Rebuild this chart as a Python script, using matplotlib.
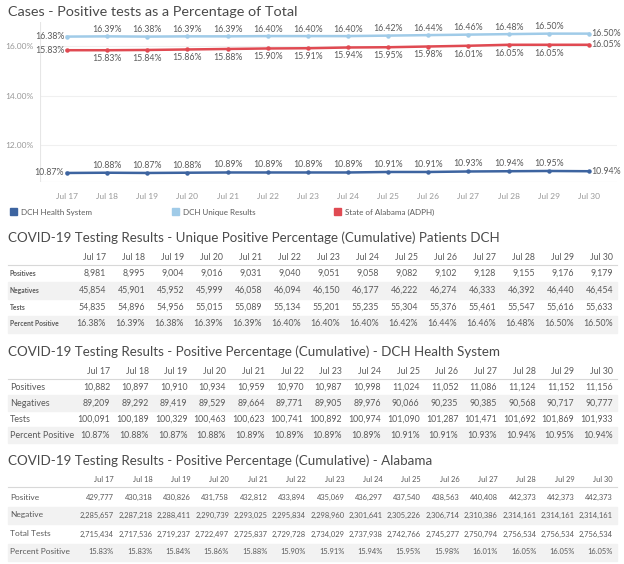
import matplotlib
matplotlib.use('Agg')
import matplotlib.pyplot as plt
from matplotlib.transforms import Affine2D
from matplotlib.patches import Rectangle
from matplotlib.lines import Line2D

plt.rcParams['font.family'] = ['Lato', 'DejaVu Sans']

dates = ['Jul 17', 'Jul 18', 'Jul 19', 'Jul 20', 'Jul 21', 'Jul 22', 'Jul 23',
         'Jul 24', 'Jul 25', 'Jul 26', 'Jul 27', 'Jul 28', 'Jul 29', 'Jul 30']

# percent positive series
dch_system_pct = [10.87, 10.88, 10.87, 10.88, 10.89, 10.89, 10.89, 10.89, 10.91, 10.91, 10.93, 10.94, 10.95, 10.94]
dch_unique_pct = [16.38, 16.39, 16.38, 16.39, 16.39, 16.40, 16.40, 16.40, 16.42, 16.44, 16.46, 16.48, 16.50, 16.50]
alabama_pct = [15.83, 15.83, 15.84, 15.86, 15.88, 15.90, 15.91, 15.94, 15.95, 15.98, 16.01, 16.05, 16.05, 16.05]

# DCH unique patients
uniq_pos = [8981, 8995, 9004, 9016, 9031, 9040, 9051, 9058, 9082, 9102, 9128, 9155, 9176, 9179]
uniq_neg = [45854, 45901, 45952, 45999, 46058, 46094, 46150, 46177, 46222, 46274, 46333, 46392, 46440, 46454]
uniq_tests = [54835, 54896, 54956, 55015, 55089, 55134, 55201, 55235, 55304, 55376, 55461, 55547, 55616, 55633]

# DCH health system
sys_pos = [10882, 10897, 10910, 10934, 10959, 10970, 10987, 10998, 11024, 11052, 11086, 11124, 11152, 11156]
sys_neg = [89209, 89292, 89419, 89529, 89664, 89771, 89905, 89976, 90066, 90235, 90385, 90568, 90717, 90777]
sys_tests = [100091, 100189, 100329, 100463, 100623, 100741, 100892, 100974, 101090, 101287, 101471, 101692, 101869, 101933]

# Alabama
al_pos = [429777, 430318, 430826, 431758, 432812, 433894, 435069, 436297, 437540, 438563, 440408, 442373, 442373, 442373]
al_neg = [2285657, 2287218, 2288411, 2290739, 2293025, 2295834, 2298960, 2301641, 2305226, 2306714, 2310386, 2314161, 2314161, 2314161]
al_tests = [2715434, 2717536, 2719237, 2722497, 2725837, 2729728, 2734029, 2737938, 2742766, 2745277, 2750794, 2756534, 2756534, 2756534]

W, H = 624, 564
fig = plt.figure(figsize=(W / 100, H / 100), dpi=100)
px = Affine2D().scale(1 / W, -1 / H).translate(0, 1) + fig.transFigure

c_dark = '#3d64a0'
c_light = '#a0cbe8'
c_red = '#e04a52'
gray = '#5a5a5a'
title_c = '#4a4a4a'

# ---- line chart ----
fig.text(8, 12, 'Cases - Positive tests as a Percentage of Total', transform=px,
         fontsize=10.4, color=title_c, va='center')

ax = fig.add_axes([40 / W, 1 - 182 / H, (617 - 40) / W, (182 - 22) / H])
x = list(range(len(dates)))
ax.set_xlim(-0.67, 13.7)
ax.set_ylim(10.505, 16.97)
for sp in ax.spines.values():
    sp.set_visible(False)
ax.axvline(-0.67, color='#e6e6e6', lw=0.8)
ax.axhline(10.505, color='#e6e6e6', lw=0.8)
ax.set_yticks([12, 14, 16])
ax.set_yticklabels(['12.00%', '14.00%', '16.00%'])
ax.yaxis.grid(True, color='#f0f0f0', lw=0.8)
ax.set_xticks(x)
ax.set_xticklabels(dates)
ax.tick_params(length=0, labelsize=6, labelcolor='#999999', pad=8)
ax.tick_params(axis='y', pad=5)

for series, col in [(dch_system_pct, c_dark), (dch_unique_pct, c_light), (alabama_pct, c_red)]:
    ax.plot(x, series, color=col, lw=1.8, marker='o', ms=2.2, zorder=3)

def label_series(series, dy):
    n = len(series)
    for i, v in enumerate(series):
        if i == 0:
            ax.annotate(f'{v:.2f}%', (i, v), xytext=(-2, 0), textcoords='offset points',
                        ha='right', va='center', fontsize=6.3, color=gray)
        elif i == n - 1:
            ax.annotate(f'{v:.2f}%', (i, v), xytext=(2, 0), textcoords='offset points',
                        ha='left', va='center', fontsize=6.3, color=gray)
        else:
            ax.annotate(f'{v:.2f}%', (i, v), xytext=(0, dy), textcoords='offset points',
                        ha='center', va='center', fontsize=6.3, color=gray)

label_series(dch_unique_pct, 5)
label_series(alabama_pct, -6)
label_series(dch_system_pct, 5.5)

# legend
for lx, col, name in [(10, c_dark, 'DCH Health System'), (172, c_light, 'DCH Unique Results'),
                      (334, c_red, 'State of Alabama (ADPH)')]:
    fig.patches.append(Rectangle((lx, 208), 7, 7, transform=px, color=col))
    fig.text(lx + 11, 212, name, transform=px, fontsize=5.8, color=gray, va='center')

# ---- tables ----
def draw_table(title, title_y, head_y, line_y, rows, row_ys, shade, first_x, last_x,
               label_size, value_size, bold_labels=False):
    fig.text(8, title_y, title, transform=px, fontsize=9.6, color=title_c, va='center')
    step = (last_x - first_x) / (len(dates) - 1)
    for (y0, y1) in shade:
        fig.patches.append(Rectangle((8, y0), 609, y1 - y0, transform=px,
                                     color='#f2f2f2', zorder=0))
    fig.lines.append(Line2D([8, 617], [line_y, line_y], transform=px, color='#d8d8d8', lw=0.8))
    for j, d in enumerate(dates):
        fig.text(first_x + j * step, head_y, d, transform=px, fontsize=value_size,
                 color=gray, ha='right', va='center')
    for (name, vals), ry in zip(rows, row_ys):
        fig.text(10, ry, name, transform=px, fontsize=label_size, color=gray, va='center',
                 fontweight='bold' if bold_labels else 'normal')
        for j, v in enumerate(vals):
            s = f'{v:.2f}%' if isinstance(v, float) else f'{v:,}'
            fig.text(first_x + j * step, ry, s, transform=px, fontsize=value_size,
                     color=gray, ha='right', va='center')

draw_table('COVID-19 Testing Results - Unique Positive Percentage (Cumulative) Patients DCH',
           238, 257, 265,
           [('Positives', uniq_pos), ('Negatives', uniq_neg), ('Tests', uniq_tests),
            ('Percent Positive', dch_unique_pct)],
           [273, 290, 307, 324], [(282, 299), (316, 333)], 106, 613, 4.8, 6.3, True)

draw_table('COVID-19 Testing Results - Positive Percentage (Cumulative) - DCH Health System',
           352, 371, 379,
           [('Positives', sys_pos), ('Negatives', sys_neg), ('Tests', sys_tests),
            ('Percent Positive', dch_system_pct)],
           [387, 403, 419, 435], [(395, 411), (427, 443)], 110, 613, 6.5, 6.3)

draw_table('COVID-19 Testing Results - Positive Percentage (Cumulative) - Alabama',
           461, 479, 487,
           [('Positive', al_pos), ('Negative', al_neg), ('Total Tests', al_tests),
            ('Percent Positive', alabama_pct)],
           [497, 515, 534, 552], [(507, 524), (544, 561)], 114, 613, 6.0, 5.4)

fig.savefig('out.png', dpi=100)
